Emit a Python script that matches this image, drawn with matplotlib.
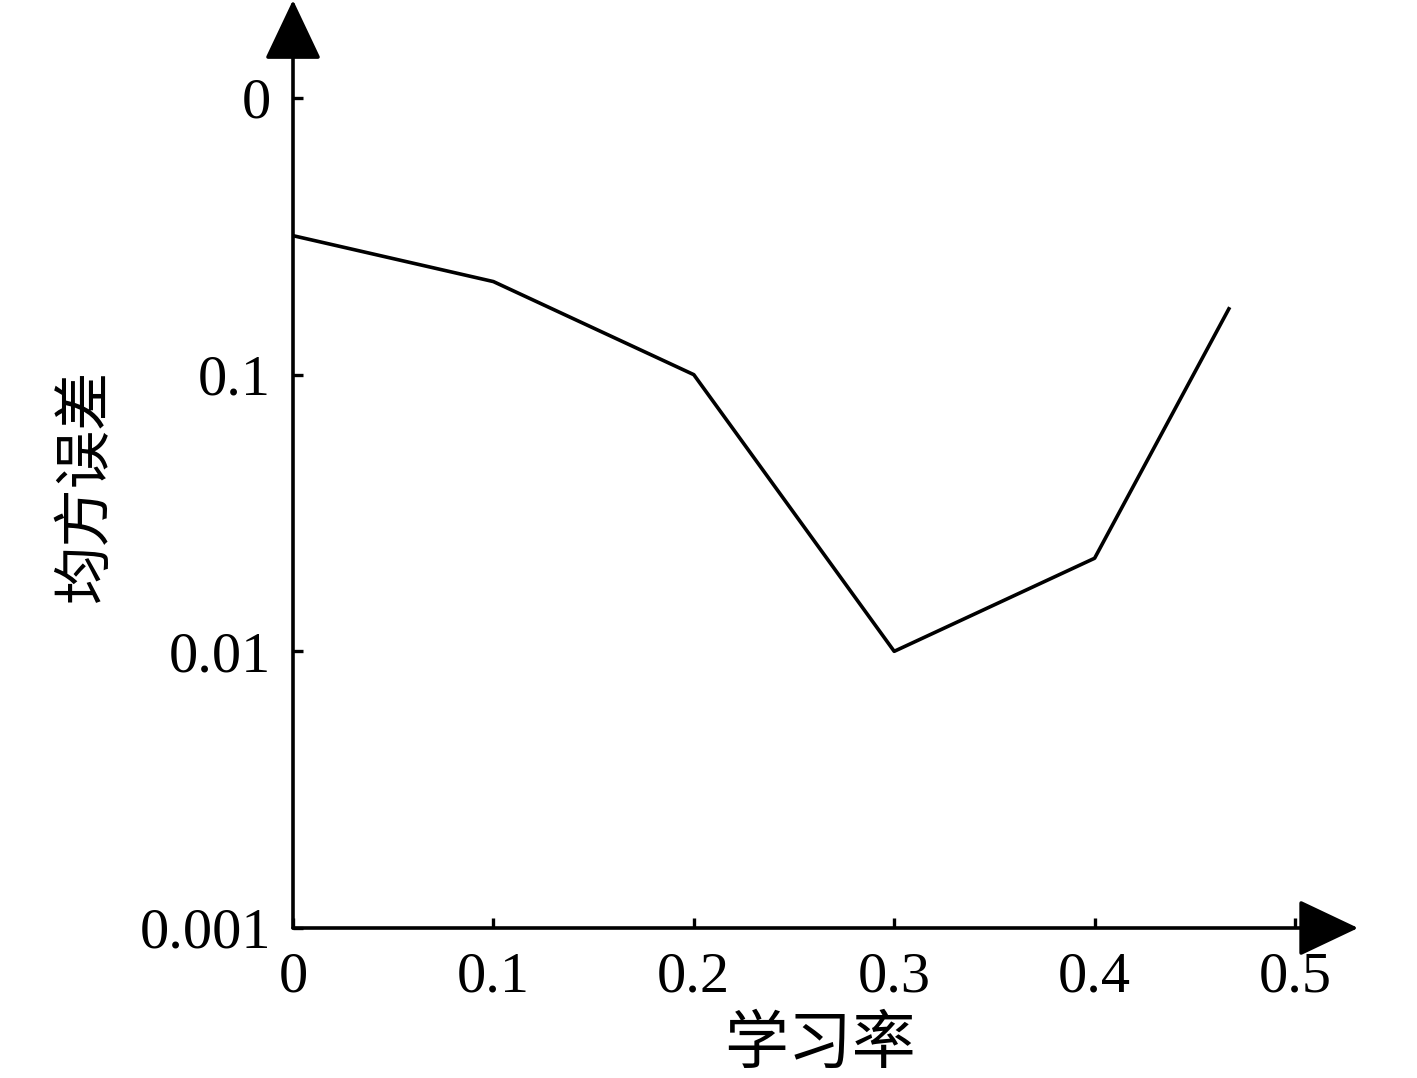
import matplotlib
matplotlib.use('Agg')
import matplotlib.pyplot as plt
from matplotlib.ticker import FixedLocator, NullLocator

# data
rate = [0.0, 0.1, 0.2, 0.3, 0.4, 0.467]
mse = [0.318, 0.217, 0.100, 0.010, 0.0217, 0.173]

xticks = [0, 0.1, 0.2, 0.3, 0.4, 0.5]
xticklabels = ['0', '0.1', '0.2', '0.3', '0.4', '0.5']
yticks = [0.001, 0.01, 0.1, 1]
yticklabels = ['0.001', '0.01', '0.1', '0']

plt.rcParams['font.family'] = ['Liberation Serif', 'Noto Sans CJK SC', 'DejaVu Sans']

fig = plt.figure(figsize=(14.17, 10.78), dpi=100)
ax = fig.add_axes([293 / 1417, 1 - 928 / 1078, 1002 / 1417, 830 / 1078])

ax.plot(rate, mse, color='black', lw=2.6)
ax.set_yscale('log')
ax.set_xlim(0, 0.5)
ax.set_ylim(0.001, 1)

ax.xaxis.set_major_locator(FixedLocator(xticks))
ax.set_xticklabels(xticklabels)
ax.yaxis.set_major_locator(FixedLocator(yticks))
ax.set_yticklabels(yticklabels)
ax.yaxis.set_minor_locator(NullLocator())
ax.xaxis.set_minor_locator(NullLocator())
ax.tick_params(direction='in', length=7, width=2.4, labelsize=42)
ax.tick_params(axis='y', pad=16)
ax.tick_params(axis='x', pad=17)

for s in ax.spines.values():
    s.set_visible(False)

# axes with arrow heads
arr = dict(arrowstyle='-|>,head_length=3.8,head_width=1.8', lw=2.6,
           color='black', mutation_scale=10, shrinkA=0, shrinkB=0)
ax.annotate('', xy=(0, 1.118), xytext=(0, 0), xycoords='axes fraction',
            arrowprops=arr, annotation_clip=False)
ax.annotate('', xy=(1.063, 0), xytext=(0, 0), xycoords='axes fraction',
            arrowprops=arr, annotation_clip=False)

fig.text(820 / 1417, 1 - 1045 / 1078, '学习率', family='Noto Sans CJK SC',
         fontsize=46, ha='center', va='center')
fig.text(85 / 1417, 1 - 485 / 1078, '均方误差', family='Noto Sans CJK SC',
         fontsize=42, ha='center', va='center', rotation=90)

fig.savefig('out.png', dpi=100)
